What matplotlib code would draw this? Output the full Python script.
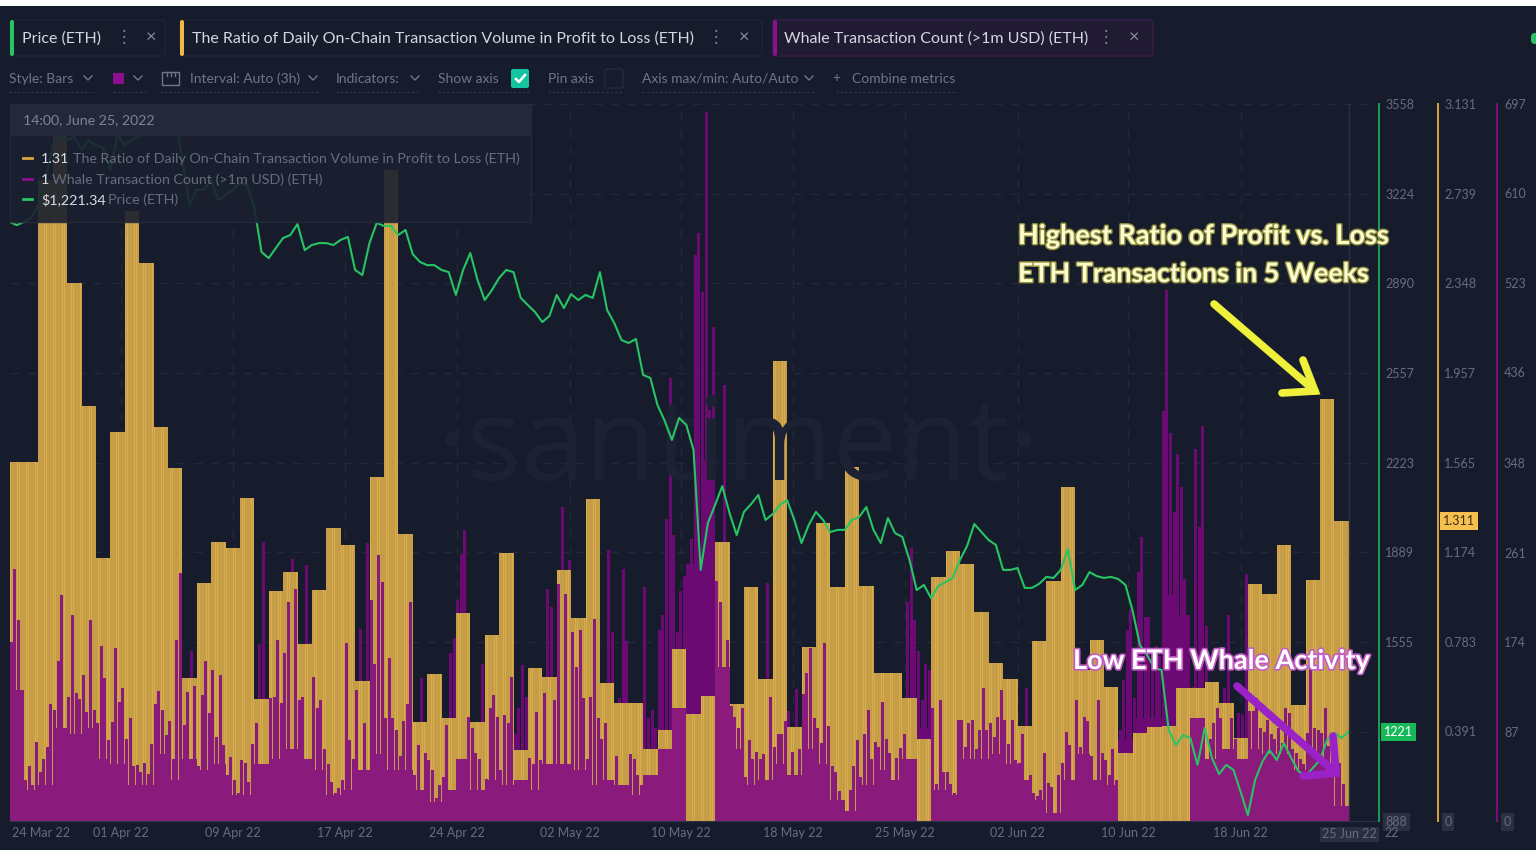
import numpy as np
import matplotlib
matplotlib.use('Agg')
import matplotlib.pyplot as plt
import matplotlib.patheffects as pe
from matplotlib.patches import Rectangle, FancyBboxPatch

#Daily ratio of profit to loss, one value a day
ratio = [1.568,1.568,2.799,3.026,2.349,1.812,1.149,1.699,2.664,2.437,1.721,1.542,0.624,1.039,1.218,1.192,
         1.411,0.533,1.004,1.087,0.773,1.009,1.280,1.205,0.611,1.502,2.843,1.253,0.432,0.642,0.450,0.908,
         0.432,0.812,1.170,0.310,0.668,0.629,1.096,0.887,1.406,0.603,0.515,0.515,0.314,0.397,0.751,0.467,
         0.546,1.218,0.511,1.022,0.620,2.009,0.410,0.760,1.301,1.022,1.546,1.026,0.646,0.646,0.537,0.358,
         1.066,1.179,1.122,0.913,0.690,0.620,0.415,0.786,1.048,1.459,0.659,0.790,0.585,0.297,0.384,0.410,
         0.415,0.581,0.581,0.607,0.515,0.362,1.035,0.991,1.205,0.507,1.052,1.843,1.311]

#Whale transactions, the spikes, four values a day
whales = [174,245,195,54, 40,53,35,77, 48,60,72,114, 108,156,220,87, 121,200,124,119, 142,106,195,108,
          95,170,139,79, 96,168,116,129, 80,100,53,54, 48,56,46,75, 114,126,108,84, 97,60,176,241,
          93,125,165,131, 53,122,156,105, 147,82,142,74, 45,62,40,27, 59,56,38,75, 95,172,271,120,
          120,121,176,115, 163,213,255,226, 118,121,249,173, 140,110,118,70, 55,38,27,32, 40,173,79,60,
          127,187,95,270, 215,153,259,232, 100,158,100,88, 63,97,114,213, 45,74,139,66, 59,50,22,35,
          43,93,163,178, 215,260,283,101, 90,66,60,153, 41,110,122,101, 50,103,95,140, 85,110,152,121,
          61,55,106,59, 124,226,208,118, 230,305,221,254, 184,150,186,120, 60,121,196,100, 80,95,263,184,
          63,120,245,175, 65,60,45,35, 227,100,108,90, 186,200,294,431, 278,184,224,238, 247,274,550,572,
          514,689,400,480, 233,213,424,176, 112,101,90,110, 43,79,60,67, 60,65,231,121, 72,85,85,97,
          107,67,128,70, 123,144,168,100, 90,76,173,92, 53,48,29,15, 10,30,53,79, 43,85,108,60,
          77,72,116,80, 66,40,61,71, 85,213,265,195, 165,118,153,147, 110,36,118,48, 48,36,27,98,
          98,72,95,98, 70,88,129,88, 95,82,101,127, 98,75,98,59, 56,85,129,45, 27,24,30,66,
          37,33,8,45, 56,87,74,30, 118,72,101,97, 63,40,118,66, 59,45,70,40, 88,137,186,206,
          120,242,276,198, 198,150,170,160, 399,516,377,300, 357,325,235,137, 130,362,286,384, 190,80,95,110,
          100,129,200,100, 80,105,103,240, 107,107,120,90, 87,98,85,80, 90,76,110,105, 70,66,60,55,
          86,152,90,88, 86,110,73,60, 50,56,36,10]

#Whale transactions, the solid mass under the spikes, one value a day
whale_base = [127,30,35,90,85,90,60,55,35,35,
              65,40,60,50,55,25,25,55,60,70,
              60,50,25,30,50,65,50,50,30,18,
              30,60,30,40,35,40,30,55,55,50,
              35,40,35,25,45,70,110,250,350,150,
              70,35,40,55,45,70,55,20,10,35,
              50,40,60,90,30,25,60,60,65,55,
              40,20,8,40,65,40,35,80,100,100,
              220,200,100,60,70,60,70,65,65,50,
              65,55,15]

#ETH price, two values a day
price = [3119,3107,3119,3133,3182,3275,3405,3435,3424,3435,3387,3424,3405,3394,3312,3443,3405,3424,3435,3469,
         3506,3517,3461,3517,3349,3182,3238,3238,3275,3200,3219,3238,3264,3256,3174,3007,2984,3022,3059,3070,
         3111,3014,3033,3040,3040,3033,3052,3063,2940,2921,3040,3115,3104,3104,3070,3089,2999,2970,2958,2958,
         2940,2932,2847,2940,3003,2903,2828,2865,2910,2940,2932,2836,2809,2783,2746,2769,2847,2798,2850,2828,
         2847,2836,2932,2791,2742,2679,2668,2683,2549,2538,2437,2378,2307,2389,2363,2270,1823,1998,2065,2135,
         2035,1953,2039,2068,2102,2009,2031,2065,2083,2009,1923,1990,2039,2009,1964,1972,1972,2009,2020,
         2057,1972,1923,2016,1960,1946,1860,1748,1767,1718,1763,1778,1793,1860,1912,1994,1964,1934,1916,1823,
         1823,1830,1756,1756,1771,1797,1793,1823,1901,1748,1767,1815,1800,1793,1797,1789,1767,1670,1543,1506,
         1458,1450,1227,1171,1208,1197,1097,1234,1123,1063,1097,1078,996,910,1041,1108,1152,1115,1178,1123,
         1074,1056,1085,1115,1190,1216,1197,1221]

price_ticks = [888,1221,1555,1889,2223,2557,2890,3224,3558]
price_tick_labels = ['888','','1555','1889','2223','2557','2890','3224','3558']
ratio_ticks = [0,0.391,0.783,1.174,1.565,1.957,2.348,2.739,3.131]
ratio_tick_labels = ['0','0.391','0.783','1.174','1.565','1.957','2.348','2.739','3.131']
whale_ticks = [0,87,174,261,348,436,523,610,697]
date_pos = [2.2,7.75,15.5,23.3,31.1,38.9,46.6,54.4,62.2,70,77.7,85.5]
date_labels = ['24 Mar 22','01 Apr 22','09 Apr 22','17 Apr 22','24 Apr 22','02 May 22','10 May 22',
               '18 May 22','25 May 22','02 Jun 22','10 Jun 22','18 Jun 22']

BG = '#171c2c'
GRID = '#232938'
TICK = '#666d7d'
GREEN = '#27c463'
YELLOW = '#d9a441'
PURPLE = '#7a0f82'
W, H = 1536, 850

plt.rcParams['font.family'] = ['Lato', 'DejaVu Sans']
fig = plt.figure(figsize=(W/100, H/100), dpi=100, facecolor=BG)
rect = [9.5/W, 1-821/H, (1379-9.5)/W, (821-104)/H]

#watermark sits behind everything
fig.text(738/W, 1-450/H, '\u00b7santiment\u00b7', color='#1c2233', fontsize=83, ha='center', va='center', family='Open Sans')

#layers: tall whale bars, ratio, short whale bars, price
ax = fig.add_axes(rect, zorder=1)
ax_ratio = ax.twinx()
ax_front = ax.twinx()
ax_price = ax.twinx()
ax_ratio.set_zorder(2)
ax_front.set_zorder(3)
ax_price.set_zorder(4)
for a in [ax, ax_ratio, ax_front, ax_price]:
    a.patch.set_visible(False)
    for s in a.spines.values():
        s.set_visible(False)

ratio = np.array(ratio)
whales = np.array(whales)
whale_base = np.array(whale_base)
price = np.array(price)
day_x = np.arange(len(ratio)) + 0.5
whale_x = np.arange(len(whales))/4 + 0.125
price_x = np.arange(len(price))*0.5

#the shorter bar always comes out in front
short = whales/697 < np.repeat(ratio, 4)/3.131
short_base = whale_base/697 < ratio/3.131

ax.bar(day_x, whale_base, width=1, color='#6a0a72', linewidth=0)
ax.bar(whale_x, whales, width=0.2, color='#6a0a72', linewidth=0)
ax_ratio.bar(day_x, ratio, width=1, color='#c69d47', linewidth=0)
stripe_x = np.arange(len(ratio)*8)/8 + 1/16
ax_ratio.bar(stripe_x, np.repeat(ratio, 8), width=0.035, color='#dcab4b', linewidth=0)
ax_front.bar(day_x[short_base], whale_base[short_base], width=1, color='#8a1a7b', linewidth=0)
ax_front.bar(whale_x[short], whales[short], width=0.2, color='#8a1a7b', linewidth=0)
ax_price.plot(price_x, price, color=GREEN, lw=1.5, solid_joinstyle='round')

ax.set_xlim(0, (1379-9.5)/14.4)
ax.set_ylim(0, 697)
ax_ratio.set_ylim(0, 3.131)
ax_front.set_ylim(0, 697)
ax_price.set_ylim(888, 3558)
ax_front.set_yticks([])

#grid
for y in price_ticks[1:]:
    ax.axhline((y-888)/(3558-888)*697, color=GRID, lw=1, ls=(0, (6, 6)), zorder=0)
for x in date_pos:
    ax.axvline(x, color=GRID, lw=1, ls=(0, (6, 6)), zorder=0)
ax_price.axvline(93, color='#2c3243', lw=1)

#three axes on the right, spine offsets are in points
ax_price.set_yticks(price_ticks)
ax_price.set_yticklabels(price_tick_labels)
ax_ratio.set_yticks(ratio_ticks)
ax_ratio.set_yticklabels(ratio_tick_labels)
ax.yaxis.tick_right()
ax.set_yticks(whale_ticks)
ax_price.spines['right'].set_visible(True)
ax_price.spines['right'].set_color('#1f9d55')
ax_price.spines['right'].set_linewidth(1.4)
ax_ratio.spines['right'].set_visible(True)
ax_ratio.spines['right'].set_color(YELLOW)
ax_ratio.spines['right'].set_linewidth(1.4)
ax_ratio.spines['right'].set_position(('outward', 59*0.72))
ax.spines['right'].set_visible(True)
ax.spines['right'].set_color(PURPLE)
ax.spines['right'].set_linewidth(1.4)
ax.spines['right'].set_position(('outward', 118*0.72))
ax.spines['bottom'].set_visible(True)
ax.spines['bottom'].set_color('#2c3243')
for a, pad in [(ax_price, 4.5), (ax_ratio, 4.5), (ax, 5)]:
    a.tick_params(axis='y', length=0, pad=pad, labelsize=9, labelcolor=TICK)
    a.get_yticklabels()[0].set_bbox(dict(facecolor='#2a3042', edgecolor='none', pad=2))

ax.set_xticks(date_pos)
ax.set_xticklabels(date_labels)
ax.tick_params(axis='x', length=0, pad=4.5, labelsize=9, labelcolor=TICK)

#current value tags
ax_price.text(1.0035, 1221, '1221', transform=ax_price.get_yaxis_transform(), color='white', fontsize=9, va='center',
              bbox=dict(facecolor='#17b85a', edgecolor='none', pad=2.2))
ax_ratio.text(1.0465, 1.311, '1.311', transform=ax_ratio.get_yaxis_transform(), color='#3a2c10', fontsize=9, va='center',
              bbox=dict(facecolor='#f5c04e', edgecolor='none', pad=2.2))

#everything else is drawn in screen pixels on top
ov = fig.add_axes([0, 0, 1, 1], zorder=10)
ov.set_xlim(0, W)
ov.set_ylim(H, 0)
ov.axis('off')

def label(x, y, s, color='#6f7687', size=10, **kw):
    return ov.text(x, y, s, color=color, fontsize=size, va='center', **kw)

def chevron(x, y):
    ov.plot([x-4, x, x+4], [y-2, y+2, y-2], color='#6f7687', lw=1)

def arrow(tail, tip, head1, head2, color):
    ov.plot([tail[0], tip[0]], [tail[1], tip[1]], color=color, lw=5.5, solid_capstyle='round')
    ov.plot([head1[0], tip[0], head2[0]], [head1[1], tip[1], head2[1]], color=color, lw=5.5,
            solid_capstyle='round', solid_joinstyle='miter')

#white strip at the top of the screenshot
ov.add_patch(Rectangle((0, 0), W, 6, color='white', lw=0))

#metric tabs
tabs = [(10, 155, '#27c463', 'Price (ETH)', 124, 151, BG, '#1f2535'),
        (180, 582, '#f0b849', 'The Ratio of Daily On-Chain Transaction Volume in Profit to Loss (ETH)', 716, 744, BG, '#1f2535'),
        (773, 380, '#8b0f8f', 'Whale Transaction Count (>1m USD) (ETH)', 1106, 1134, '#211a33', '#3a1c48')]
for x, w, c, name, dots, close, fc, ec in tabs:
    ov.add_patch(FancyBboxPatch((x, 20), w, 36, boxstyle='round,pad=0,rounding_size=3', fc=fc, ec=ec, lw=1))
    ov.add_patch(FancyBboxPatch((x, 20), 4, 36, boxstyle='round,pad=0,rounding_size=2', fc=c, ec='none'))
    label(x+11.5, 38.5, name, color='#d4d7df', size=11.5)
    label(dots, 37, '\u22ee', color='#7c8393', size=12, ha='center')
    label(close, 37, '\u00d7', color='#8b91a0', size=13, ha='center')
ov.add_patch(FancyBboxPatch((1531, 33), 8, 11, boxstyle='round,pad=0,rounding_size=4', fc='#27c463', ec='none'))

#toolbar
label(9, 78.5, 'Style: Bars')
chevron(88, 78)
ov.add_patch(Rectangle((113, 73), 11, 11, color='#8b0f8f', lw=0))
chevron(138, 78)
ov.add_patch(Rectangle((162, 72), 17, 13, fc='none', ec='#6f7687', lw=1))
for x in [167, 171, 175]:
    ov.plot([x, x], [72, 76], color='#6f7687', lw=1)
label(190, 78.5, 'Interval: Auto (3h)')
chevron(313, 78)
label(336, 78.5, 'Indicators:')
chevron(415, 78)
label(438, 78.5, 'Show axis')
ov.add_patch(FancyBboxPatch((511, 69), 18, 19, boxstyle='round,pad=0,rounding_size=2', fc='#14c4a0', ec='none'))
ov.plot([516, 519, 525], [79, 82, 75], color='white', lw=1.8)
label(548, 78.5, 'Pin axis')
ov.add_patch(FancyBboxPatch((605, 69), 18, 19, boxstyle='round,pad=0,rounding_size=2', fc='none', ec='#252b3b', lw=1))
label(642, 78.5, 'Axis max/min: Auto/Auto')
chevron(809, 78)
label(836, 78, '+', ha='center')
label(852, 78.5, 'Combine metrics')
for x0, x1 in [(9, 94), (113, 146), (160, 318), (336, 420), (438, 530), (548, 623), (642, 815), (836, 957)]:
    ov.plot([x0, x1], [92, 92], color='#333949', lw=0.8, ls=(0, (2, 2)))

#hover panel
ov.add_patch(Rectangle((10, 104), 521, 118, fc='#1a2030', ec='#262c3d', lw=1, alpha=0.9))
ov.add_patch(Rectangle((10, 104), 521, 32, fc='#242a3b', ec='none', alpha=0.92))
label(23, 120, '14:00, June 25, 2022', color='#7d8494', size=10.2)
rows = [(159, YELLOW, '1.31', 41, 'The Ratio of Daily On-Chain Transaction Volume in Profit to Loss (ETH)', 73),
        (179.5, '#8b0f8f', '1', 41, 'Whale Transaction Count (>1m USD) (ETH)', 52),
        (200, GREEN, '$1,221.34', 41, 'Price (ETH)', 108)]
for y, c, val, xv, name, xn in rows:
    ov.plot([23, 32], [y-1, y-1], color=c, lw=2)
    label(xv, y, val, color='#d9dbe2', size=10.3)
    label(xn, y, name, color='#666d7d', size=10.3)

#last date sits in a tag over the tail of the hidden one
label(1392, 833, '22', color=TICK, size=9, ha='center')
ov.add_patch(Rectangle((1320, 827), 59, 15, fc='#2a3042', ec='none'))
label(1349.5, 834, '25 Jun 22', color=TICK, size=9, ha='center')

#annotations
glow_y = [pe.withStroke(linewidth=2, foreground='#8f8f3c')]
ov.text(1018, 236, 'Highest Ratio of Profit vs. Loss', color='#fdfcd0', fontsize=19.5, fontweight='bold',
        va='center', path_effects=glow_y)
ov.text(1018, 274, 'ETH Transactions in 5 Weeks', color='#fdfcd0', fontsize=19.3, fontweight='bold',
        va='center', path_effects=glow_y)
ov.text(1073, 661, 'Low ETH Whale Activity', color='white', fontsize=19.5, fontweight='bold',
        va='center', path_effects=[pe.withStroke(linewidth=2.4, foreground='#c25fc4')])
arrow((1214, 304), (1315, 391), (1303, 360), (1282, 393), '#eef03c')
arrow((1237, 686), (1336, 773), (1333, 736), (1303, 776), '#9a22c8')

fig.savefig('out.png', dpi=100, facecolor=BG)
